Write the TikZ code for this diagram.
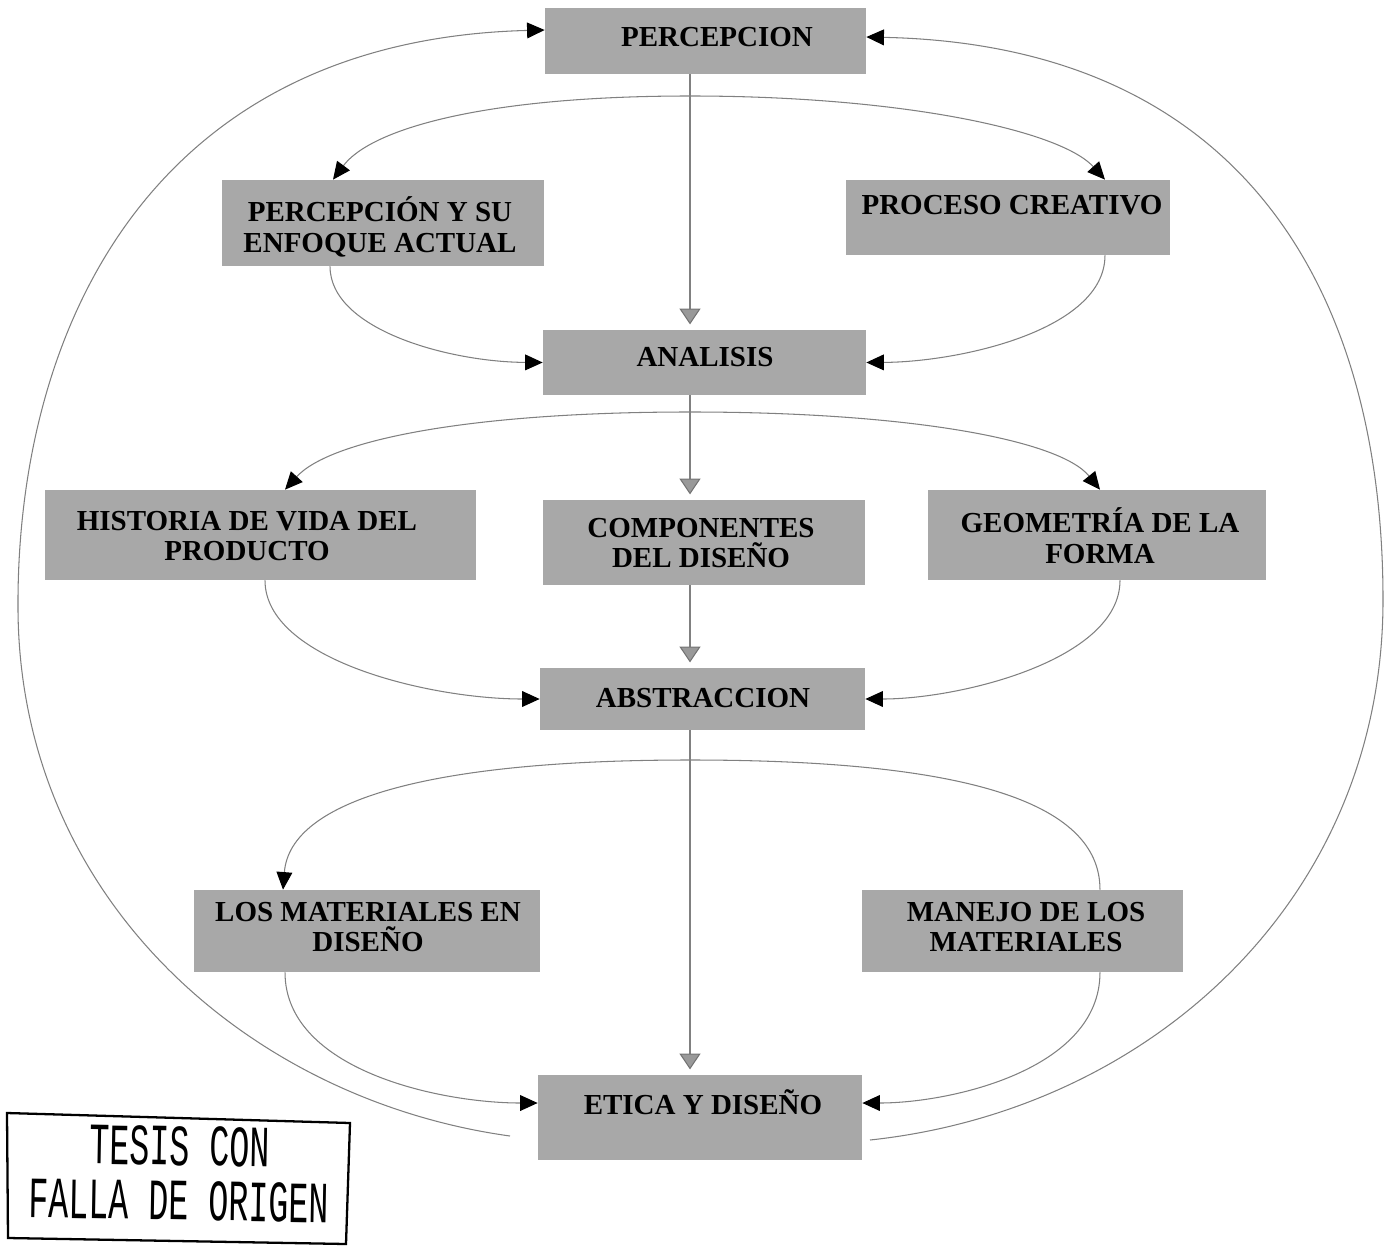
\documentclass[tikz,border=0pt]{standalone}
\usepackage{fontspec}
\setmainfont{Liberation Serif}
\newfontfamily\stampfont{Liberation Mono}
\usetikzlibrary{arrows.meta,fit}

\begin{document}
\begin{tikzpicture}[x=0.02cm,y=-0.02cm,
  box/.style={fill=black!34, draw=none, inner sep=0pt},
  lbl/.style={font=\bfseries\fontsize{16.5}{17.5}\selectfont, align=center, inner sep=0pt, text=black},
  link/.style={draw=black!50, line width=0.6pt},
  tip/.style={link, -{Triangle[length=10pt,width=9pt,fill=black,color=black]}},
  down/.style={link, shorten >=3pt, -{Triangle[length=9pt,width=12pt,fill=black!40,color=black!55]}},
  stamptext/.style={font=\stampfont\fontsize{19}{17}\selectfont, inner sep=0pt}]
\useasboundingbox (0,0) rectangle (1396,1247);

% boxes
\node[box, fit={(545,8) (866,74)}]      (perc)  {};
\node[box, fit={(222,180) (544,266)}]   (pys)   {};
\node[box, fit={(846,180) (1170,255)}]  (proc)  {};
\node[box, fit={(543,330) (866,395)}]   (anal)  {};
\node[box, fit={(45,490) (476,580)}]    (hist)  {};
\node[box, fit={(543,500) (865,585)}]   (comp)  {};
\node[box, fit={(928,490) (1266,580)}]  (geom)  {};
\node[box, fit={(540,668) (865,730)}]   (abst)  {};
\node[box, fit={(194,890) (540,972)}]   (lmat)  {};
\node[box, fit={(862,890) (1183,972)}]  (mane)  {};
\node[box, fit={(538,1075) (862,1160)}] (etica) {};

% labels
\node[lbl] (percT)  at (717,37)   {PERCEPCION};
\node[lbl] (pysT)   at (380,227)  {PERCEPCIÓN Y SU\\ENFOQUE ACTUAL};
\node[lbl] (procT)  at (1012,205) {PROCESO CREATIVO};
\node[lbl] (analT)  at (705,357)  {ANALISIS};
\node[lbl] (histT)  at (247,536)  {HISTORIA DE VIDA DEL\\PRODUCTO};
\node[lbl] (compT)  at (701,543)  {COMPONENTES\\DEL DISEÑO};
\node[lbl] (geomT)  at (1100,536) {GEOMETRÍA DE LA\\FORMA};
\node[lbl] (abstT)  at (703,698)  {ABSTRACCION};
\node[lbl] (lmatT)  at (368,927)  {LOS MATERIALES EN\\DISEÑO};
\node[lbl] (maneT)  at (1026,927) {MANEJO DE LOS\\MATERIALES};
\node[lbl] (eticaT) at (703,1102) {ETICA Y DISEÑO};

% main vertical chain
\coordinate (v) at (690,0);
\draw[down] (perc.south -| v) -- (anal.north -| v);
\draw[down] (anal.south -| v) -- (comp.north -| v);
\draw[down] (comp.south -| v) -- (abst.north -| v);
\draw[down] (abst.south -| v) -- (etica.north -| v);

% branch points on the chain
\coordinate (s1) at (690,96);
\coordinate (s2) at (690,412);
\coordinate (s3) at (690,760);

% first level
\draw[tip] (s1) .. controls (480,96) and (370,130) .. ([xshift=-1cm]pys.north);
\draw[tip] (s1) .. controls (900,96) and (1060,130) .. ([xshift=1.94cm]proc.north);
\draw[tip] ([xshift=-1.06cm]pys.south) .. controls (330,330) and (450,362) .. (anal.west);
\draw[tip] ([xshift=1.94cm]proc.south) .. controls (1105,330) and (960,362) .. (anal.east);

% second level
\draw[tip] (s2) .. controls (470,412) and (330,440) .. ([xshift=0.49cm]hist.north);
\draw[tip] (s2) .. controls (910,412) and (1060,440) .. ([xshift=0.06cm]geom.north);
\draw[tip] ([xshift=0.09cm]hist.south) .. controls (265,660) and (430,699) .. (abst.west);
\draw[tip] ([xshift=0.46cm]geom.south) .. controls (1120,660) and (960,699) .. (abst.east);

% third level
\draw[tip]  (s3) .. controls (430,760) and (290,800) .. ([xshift=-1.68cm]lmat.north);
\draw[link] (s3) .. controls (960,760) and (1100,800) .. ([xshift=1.55cm]mane.north);
\draw[tip] ([xshift=-1.64cm]lmat.south) .. controls (285,1070) and (440,1103) .. ([yshift=0.29cm]etica.west);
\draw[tip] ([xshift=1.55cm]mane.south) .. controls (1100,1070) and (950,1103) .. ([yshift=0.29cm]etica.east);

% feedback loops back to the top
\coordinate (fbL) at (510,1136);
\coordinate (fbR) at (870,1140);
\draw[tip] (fbL) .. controls (250,1100) and (20,900) .. (18,610)
                 .. controls (16,330) and (150,40) .. ([yshift=0.22cm]perc.west);
\draw[tip] (fbR) .. controls (1150,1110) and (1383,900) .. (1383,600)
                 .. controls (1383,300) and (1250,45) .. ([yshift=0.08cm]perc.east);

% stamp
\draw[line width=1.3pt] (7,1113) -- (350,1123) -- (346,1244) -- (8,1238) -- cycle;
\node[stamptext, rotate=-1] (stamp) at (179,1181)
  {\scalebox{1}[1.75]{\begin{tabular}{@{}c@{}}TESIS CON\\FALLA DE ORIGEN\end{tabular}}};
\end{tikzpicture}
\end{document}
